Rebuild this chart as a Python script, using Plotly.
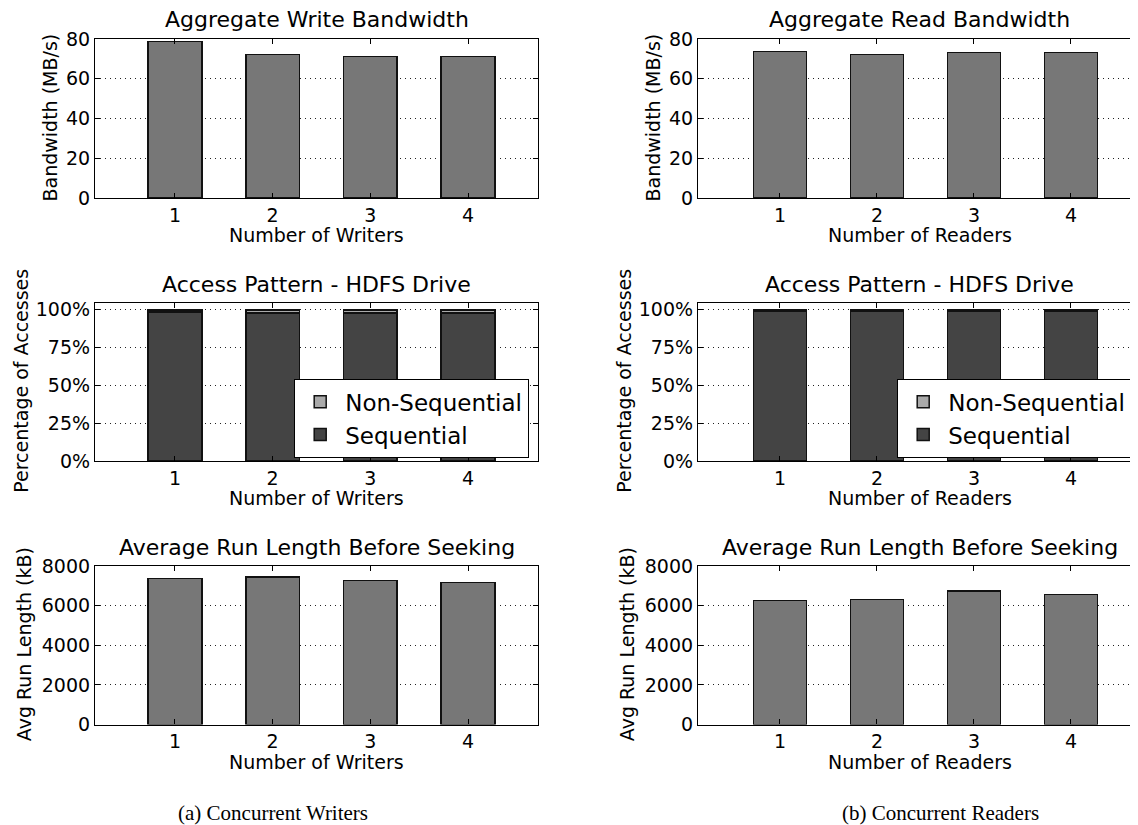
import plotly.graph_objects as go

# ---------------- data ----------------
counts = [1, 2, 3, 4]
write_bw = [78.8, 72.2, 71.3, 71.3]
read_bw = [73.6, 72.2, 73.3, 73.3]
write_seq = [98.4, 97.8, 97.8, 98.0]
write_nonseq = [1.6, 2.2, 2.2, 2.0]
read_seq = [98.9, 98.9, 98.9, 98.9]
read_nonseq = [1.1, 1.1, 1.1, 1.1]
write_run = [7360, 7445, 7280, 7160]
read_run = [6270, 6305, 6740, 6555]
pct_ticks = [0, 25, 50, 75, 100]
pct_labels = ["0%", "25%", "50%", "75%", "100%"]

# page is 1138x825; the html body has an 8px margin, so the figure is sized to fit inside
OFF = 8
W, H = 1138 - OFF, 825 - OFF
FONT = "DejaVu Sans"
BAR = "#777777"
SEQ = "#444444"
NONSEQ = "#aaaaaa"
EDGE = "#111111"


def px(x):
    return (x - OFF) / W


def py(y):
    return 1 - (y - OFF) / H


PANEL_W = 443
xdom_left = [px(95), px(95 + PANEL_W)]
xdom_right = [px(698), 1.0]
xrange_left = [0.181, 0.181 + PANEL_W / 97.67]
xrange_right = [0.155, 0.155 + (1138 - 698) / 97.0]
rows = [(39, 198), (302.5, 461), (566, 724.5)]
ydoms = [[py(b), py(t)] for (t, b) in rows]

fig = go.Figure()


def axid(r, c):
    n = r * 2 + c + 1
    return ("x" if n == 1 else f"x{n}"), ("y" if n == 1 else f"y{n}")


bar_w = 0.55
line = dict(color=EDGE, width=1.5)

for c, vals in enumerate([write_bw, read_bw]):
    xa, ya = axid(0, c)
    fig.add_trace(go.Bar(x=counts, y=vals, width=bar_w, marker=dict(color=BAR, line=line),
                         xaxis=xa, yaxis=ya, showlegend=False))

for c, (seq, nonseq) in enumerate([(write_seq, write_nonseq), (read_seq, read_nonseq)]):
    xa, ya = axid(1, c)
    lg = "legend" if c == 0 else "legend2"
    fig.add_trace(go.Bar(x=counts, y=seq, width=bar_w, name="Sequential",
                         marker=dict(color=SEQ, line=line), xaxis=xa, yaxis=ya,
                         legend=lg, showlegend=True))
    fig.add_trace(go.Bar(x=counts, y=nonseq, width=bar_w, name="Non-Sequential",
                         marker=dict(color=NONSEQ, line=line), xaxis=xa, yaxis=ya,
                         legend=lg, showlegend=True))

for c, vals in enumerate([write_run, read_run]):
    xa, ya = axid(2, c)
    fig.add_trace(go.Bar(x=counts, y=vals, width=bar_w, marker=dict(color=BAR, line=line),
                         xaxis=xa, yaxis=ya, showlegend=False))

yconf = [
    dict(range=[0, 80], tickvals=[0, 20, 40, 60, 80]),
    dict(range=[0, 104.8], tickmode="array", tickvals=pct_ticks, ticktext=pct_labels),
    dict(range=[0, 8000], tickvals=[0, 2000, 4000, 6000, 8000]),
]

layout = dict(
    width=W, height=H, margin=dict(l=0, r=0, t=0, b=0),
    paper_bgcolor="white", plot_bgcolor="white",
    barmode="stack", font=dict(family=FONT, size=19, color="black"),
    showlegend=True,
)

common_axis = dict(showline=True, linecolor="black", linewidth=1.2,
                   ticks="inside", ticklen=5, tickwidth=1, tickcolor="black",
                   tickfont=dict(family=FONT, size=19, color="black"), zeroline=False,
                   automargin=False, fixedrange=True)

for r in range(3):
    for c in range(2):
        n = r * 2 + c + 1
        xk = "xaxis" if n == 1 else f"xaxis{n}"
        yk = "yaxis" if n == 1 else f"yaxis{n}"
        ya_name = "y" if n == 1 else f"y{n}"
        xa_name = "x" if n == 1 else f"x{n}"
        layout[xk] = dict(common_axis, domain=xdom_left if c == 0 else xdom_right,
                          anchor=ya_name, range=xrange_left if c == 0 else xrange_right,
                          tickvals=counts, showgrid=False, mirror="allticks")
        layout[yk] = dict(common_axis, domain=ydoms[r], anchor=xa_name,
                          mirror="allticks" if c == 0 else False,
                          showgrid=True, gridcolor="#222222", gridwidth=1, griddash="1px,4px",
                          **yconf[r])

leg_common = dict(xanchor="right", yanchor="bottom", bgcolor="white", bordercolor="black",
                  borderwidth=1.2, font=dict(family=FONT, size=23), traceorder="reversed",
                  tracegroupgap=0, itemwidth=40)
layout["legend"] = dict(leg_common, x=px(529), y=py(458))
layout["legend2"] = dict(leg_common, x=px(1132), y=py(458))

fig.update_layout(**layout)

titles = ["Aggregate Write Bandwidth", "Aggregate Read Bandwidth",
          "Access Pattern - HDFS Drive", "Access Pattern - HDFS Drive",
          "Average Run Length Before Seeking", "Average Run Length Before Seeking"]
ytitles = ["Bandwidth (MB/s)", "Percentage of Accesses", "Avg Run Length (kB)"]
ytitle_x = [50, 21, 24]
xtitles = ["Number of Writers", "Number of Readers"]
title_y = [20, 284, 547]

for r in range(3):
    for c in range(2):
        left = 95 if c == 0 else 698
        xc = left + PANEL_W / 2
        t, b = rows[r]
        fig.add_annotation(text=titles[r * 2 + c], xref="paper", yref="paper",
                           x=px(xc), y=py(title_y[r]), xanchor="center", yanchor="middle",
                           showarrow=False, font=dict(family=FONT, size=22, color="black"))
        fig.add_annotation(text=xtitles[c], xref="paper", yref="paper",
                           x=px(xc), y=py(b + 37), xanchor="center", yanchor="middle",
                           showarrow=False, font=dict(family=FONT, size=19, color="black"))
        yx = ytitle_x[r] + (0 if c == 0 else 603)
        fig.add_annotation(text=ytitles[r], xref="paper", yref="paper", textangle=-90,
                           x=px(yx), y=py((t + b) / 2 - 1),
                           xanchor="center", yanchor="middle", showarrow=False,
                           font=dict(family=FONT, size=19, color="black"))

fig.add_annotation(text="(a) Concurrent Writers", xref="paper", yref="paper",
                   x=px(273), y=py(813), xanchor="center", yanchor="middle", showarrow=False,
                   font=dict(family="Liberation Serif", size=21, color="black"))
fig.add_annotation(text="(b) Concurrent Readers", xref="paper", yref="paper",
                   x=px(940), y=py(813), xanchor="center", yanchor="middle", showarrow=False,
                   font=dict(family="Liberation Serif", size=21, color="black"))

fig.write_html("out.html")
